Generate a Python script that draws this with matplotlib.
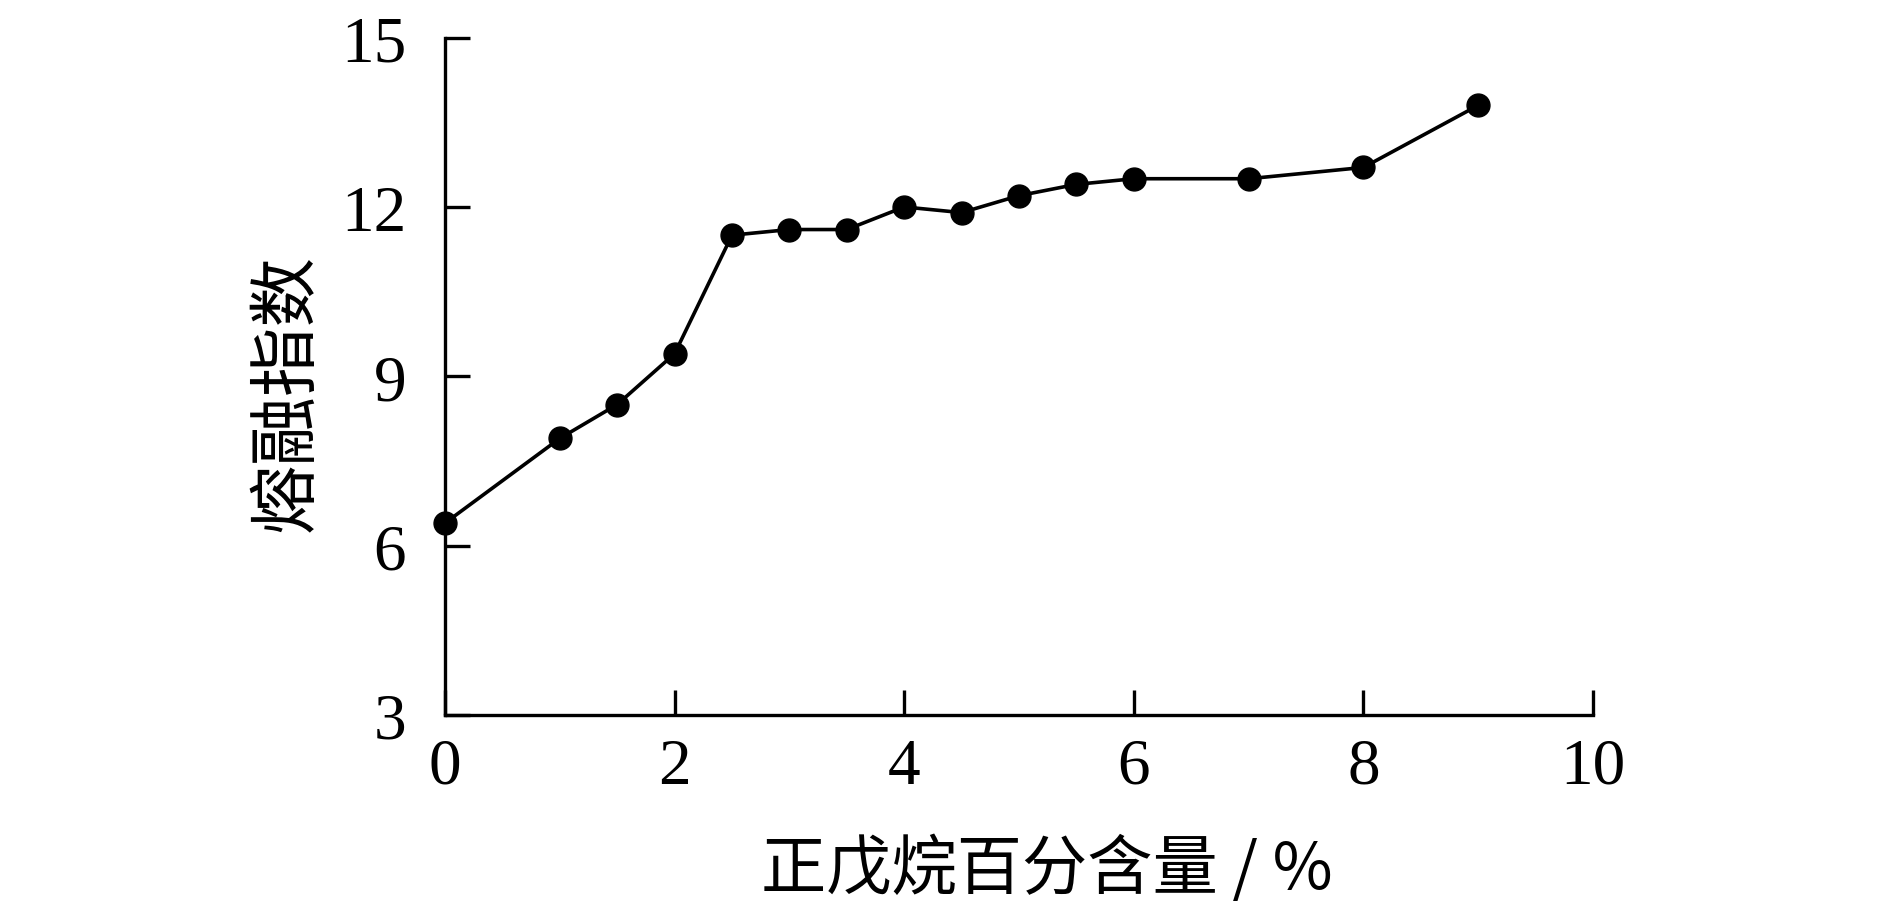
import matplotlib.pyplot as plt

# n-pentane content (%) and melt index
pentane = [0, 1, 1.5, 2, 2.5, 3, 3.5, 4, 4.5, 5, 5.5, 6, 7, 8, 9]
melt_index = [6.4, 7.9, 8.5, 9.4, 11.5, 11.6, 11.6, 12.0, 11.9, 12.2, 12.4, 12.5, 12.5, 12.7, 13.8]

xticks = [0, 2, 4, 6, 8, 10]
yticks = [3, 6, 9, 12, 15]

cjk = ['Noto Sans CJK SC', 'Liberation Serif']

fig = plt.figure(figsize=(18.9, 9.03), dpi=100)
ax = fig.add_axes([445 / 1890, 1 - 716 / 903, (1593 - 445) / 1890, (716 - 38.6) / 903])

ax.plot(pentane, melt_index, color='black', lw=2.6, marker='o', markersize=16.5, clip_on=False)

ax.set_xlim(0, 10)
ax.set_ylim(3, 15)
ax.set_xticks(xticks)
ax.set_yticks(yticks)
ax.spines['top'].set_visible(False)
ax.spines['right'].set_visible(False)
for s in ['left', 'bottom']:
    ax.spines[s].set_linewidth(2.4)
ax.tick_params(direction='in', length=18, width=2.4, labelsize=47)
ax.tick_params(axis='x', pad=16)
ax.tick_params(axis='y', pad=28)
for lab in ax.get_xticklabels() + ax.get_yticklabels():
    lab.set_family('Liberation Serif')

ax.set_xlabel('正戊烷百分含量 / %', family=cjk, fontsize=47)
ax.xaxis.set_label_coords(0.524, -0.178)
ax.set_ylabel('熔融指数', family=cjk, fontsize=50)
ax.yaxis.set_label_coords(-0.107, 0.477)

fig.savefig('out.png', dpi=100)
